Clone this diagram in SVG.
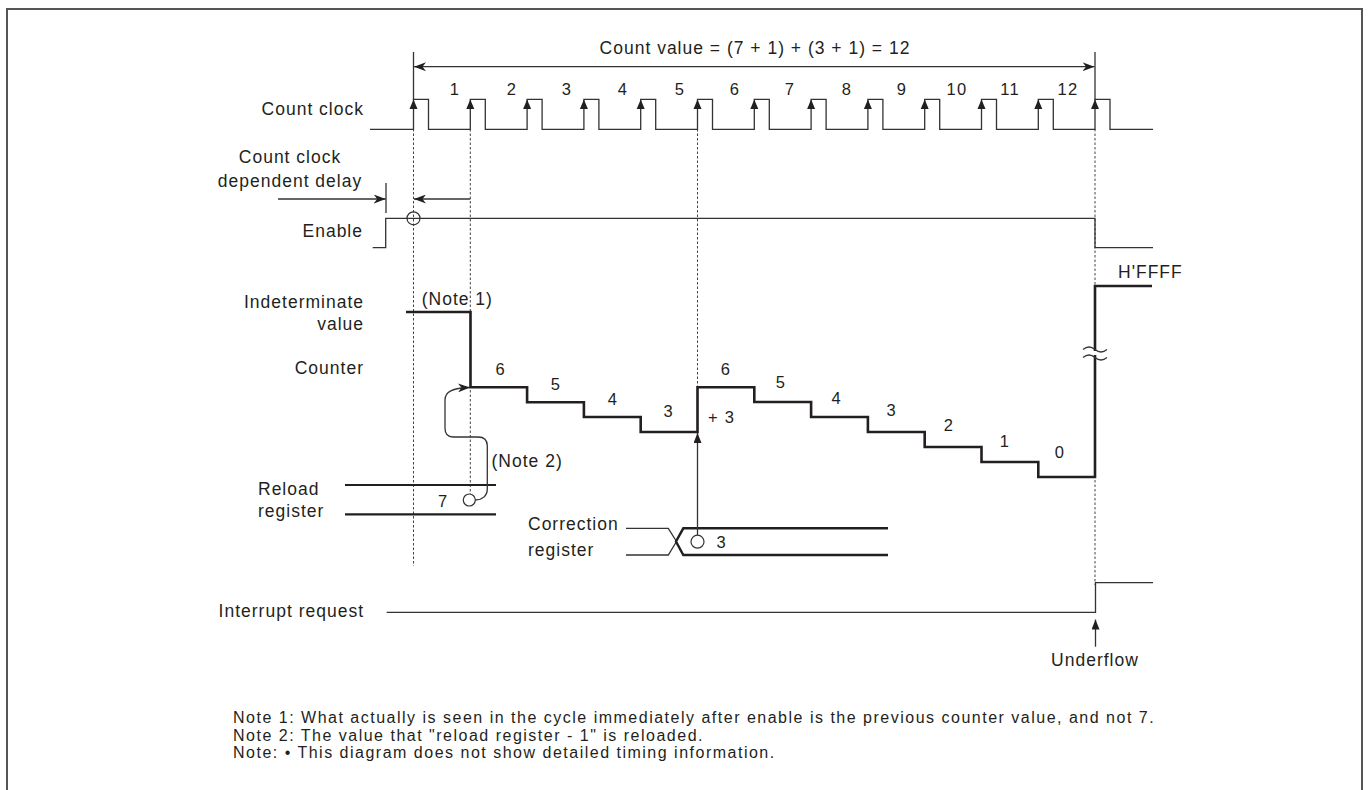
<svg xmlns="http://www.w3.org/2000/svg" width="1370" height="790" viewBox="0 0 1370 790">
<style>
text{font-family:"Liberation Sans",Arial,sans-serif;fill:#231f20;letter-spacing:1px}
.lb{font-size:17.5px}
.dg{font-size:16.5px;letter-spacing:1.3px}
.nt{font-size:16px;letter-spacing:1.5px}
.thin{fill:none;stroke:#333;stroke-width:1.3}
.thick{fill:none;stroke:#231f20;stroke-width:2.6}
.dot{fill:none;stroke:#444;stroke-width:1;stroke-dasharray:2.5,2}
.circ{fill:none;stroke:#333;stroke-width:1.2}
</style>
<defs>
<marker id="barb" viewBox="0 0 12 9" refX="12" refY="4.5" markerWidth="12" markerHeight="9" markerUnits="userSpaceOnUse" orient="auto">
<path d="M0,0 L12,4.5 L0,9 L3.5,4.5 z" fill="#231f20"/>
</marker>
<marker id="tri" viewBox="0 0 10 8" refX="10" refY="4" markerWidth="10" markerHeight="8" markerUnits="userSpaceOnUse" orient="auto">
<path d="M0,0 L10,4 L0,8 z" fill="#231f20"/>
</marker>
</defs>
<rect x="7" y="9" width="1355" height="800" fill="none" stroke="#555" stroke-width="2"/>

<g id="dotted-guides">
<line class="dot" x1="413.5" y1="129" x2="413.5" y2="566"/>
<line class="dot" x1="470.3" y1="129" x2="470.3" y2="494"/>
<line class="dot" x1="697.5" y1="129" x2="697.5" y2="432"/>
<line class="dot" x1="1095" y1="129" x2="1095" y2="585"/>
</g>

<g id="count-value">
<line class="thin" x1="413.5" y1="52" x2="413.5" y2="100"/>
<line class="thin" x1="1095" y1="52" x2="1095" y2="100"/>
<line class="thin" x1="755" y1="66.7" x2="414" y2="66.7" marker-end="url(#barb)"/>
<line class="thin" x1="755" y1="66.7" x2="1094.5" y2="66.7" marker-end="url(#barb)"/>
<text class="lb" x="755" y="54" text-anchor="middle">Count value = (7 + 1) + (3 + 1) = 12</text>
</g>

<g id="count-clock">
<text class="lb" x="364" y="115" text-anchor="end">Count clock</text>
<path class="thin" d="M370,129.3 H413.5 V99.3 H428.5 V129.3 H470.3 V99.3 H485.3 V129.3 H527.1 V99.3 H542.1 V129.3 H583.9 V99.3 H598.9 V129.3 H640.7 V99.3 H655.7 V129.3 H697.5 V99.3 H712.5 V129.3 H754.3 V99.3 H769.3 V129.3 H811.1 V99.3 H826.1 V129.3 H867.9 V99.3 H882.9 V129.3 H924.7 V99.3 H939.7 V129.3 H981.5 V99.3 H996.5 V129.3 H1038.3 V99.3 H1053.3 V129.3 H1095 V99.3 H1110 V129.3 H1153"/>
<g fill="#231f20">
<path d="M413.5,99.5 l-4,9.5 h8 z"/>
<path d="M470.3,99.5 l-4,9.5 h8 z"/>
<path d="M527.1,99.5 l-4,9.5 h8 z"/>
<path d="M583.9,99.5 l-4,9.5 h8 z"/>
<path d="M640.7,99.5 l-4,9.5 h8 z"/>
<path d="M697.5,99.5 l-4,9.5 h8 z"/>
<path d="M754.3,99.5 l-4,9.5 h8 z"/>
<path d="M811.1,99.5 l-4,9.5 h8 z"/>
<path d="M867.9,99.5 l-4,9.5 h8 z"/>
<path d="M924.7,99.5 l-4,9.5 h8 z"/>
<path d="M981.5,99.5 l-4,9.5 h8 z"/>
<path d="M1038.3,99.5 l-4,9.5 h8 z"/>
<path d="M1095,99.5 l-4,9.5 h8 z"/>
</g>
<g text-anchor="middle">
<text class="dg" x="455" y="95">1</text>
<text class="dg" x="512" y="95">2</text>
<text class="dg" x="567" y="95">3</text>
<text class="dg" x="623" y="95">4</text>
<text class="dg" x="680" y="95">5</text>
<text class="dg" x="735" y="95">6</text>
<text class="dg" x="790" y="95">7</text>
<text class="dg" x="847" y="95">8</text>
<text class="dg" x="902" y="95">9</text>
<text class="dg" x="957" y="95">10</text>
<text class="dg" x="1010" y="95">11</text>
<text class="dg" x="1068" y="95">12</text>
</g>
</g>

<g id="delay">
<text class="lb" x="290" y="163" text-anchor="middle">Count clock</text>
<text class="lb" x="290" y="187" text-anchor="middle">dependent delay</text>
<line class="thin" x1="278" y1="199" x2="385.7" y2="199" marker-end="url(#barb)"/>
<line class="thin" x1="386" y1="183" x2="386" y2="213"/>
<line class="thin" x1="470.3" y1="199" x2="414" y2="199" marker-end="url(#barb)"/>
</g>

<g id="enable">
<text class="lb" x="363" y="237" text-anchor="end">Enable</text>
<path class="thin" d="M372.7,247.7 H385.7 V218.3 H1095 V247.7 H1153"/>
<circle class="circ" cx="413.5" cy="218.3" r="6.5"/>
</g>

<g id="counter">
<text class="lb" x="364" y="308" text-anchor="end">Indeterminate</text>
<text class="lb" x="364" y="330" text-anchor="end">value</text>
<text class="lb" x="364" y="374" text-anchor="end">Counter</text>
<text class="lb" x="421.7" y="305">(Note 1)</text>
<path class="thick" d="M406,312 H470.5 V387.3 H527.1 V402.3 H583.9 V417 H640.7 V432 H697.5 V387.3 H754.3 V402 H811.1 V417 H867.9 V432 H924.7 V447 H981.5 V462 H1038.3 V477 H1095 V286 H1152"/>
<rect x="1090" y="351" width="10" height="4" fill="#fff"/>
<path class="thin" d="M1083,349.5 q6,-5 12,0 t12,0 M1083,357.5 q6,-5 12,0 t12,0"/>
<text class="lb" x="1118" y="278">H'FFFF</text>
<g text-anchor="middle">
<text class="dg" x="500.7" y="375">6</text>
<text class="dg" x="556" y="390">5</text>
<text class="dg" x="613" y="405">4</text>
<text class="dg" x="668.7" y="417">3</text>
<text class="dg" x="726" y="375">6</text>
<text class="dg" x="781" y="388">5</text>
<text class="dg" x="836.7" y="404">4</text>
<text class="dg" x="891.7" y="416">3</text>
<text class="dg" x="949" y="431">2</text>
<text class="dg" x="1005" y="447">1</text>
<text class="dg" x="1060" y="458">0</text>
</g>
<text class="dg" x="708" y="423">+ 3</text>
</g>

<g id="reload-register">
<text class="lb" x="258" y="495">Reload</text>
<text class="lb" x="258" y="517">register</text>
<line class="thick" x1="345" y1="485" x2="496" y2="485" style="stroke-width:2.2"/>
<line class="thick" x1="345" y1="514.3" x2="496" y2="514.3" style="stroke-width:2.2"/>
<text class="dg" x="443.3" y="507" text-anchor="middle">7</text>
<circle class="circ" cx="469.3" cy="500" r="6"/>
</g>

<g id="correction-register">
<text class="lb" x="528" y="530">Correction</text>
<text class="lb" x="528" y="556">register</text>
<path class="thin" d="M626,528.3 H668.3 L676.5,541.5 M626,555 H668.3 L676.5,541.5"/>
<path class="thick" d="M888,528.3 H683.3 L676,541.5 L683.3,555 H888" style="stroke-width:2.4"/>
<circle class="circ" cx="697.5" cy="541.7" r="6.5"/>
<text class="dg" x="721.7" y="548.3" text-anchor="middle">3</text>
</g>

<g id="interrupt-request">
<text class="lb" x="364" y="617" text-anchor="end">Interrupt request</text>
<path class="thin" d="M386.7,612.3 H1095.5 V582.7 H1153"/>
<text class="lb" x="1095" y="666" text-anchor="middle">Underflow</text>
</g>

<g id="connectors">
<path class="thin" d="M475.3,500 C482,500 487.3,496 487.3,489 L487.3,446 C487.3,440 484,437 478,437 L453,437 C448,437 445,434 445,428 L445,400 C445,392 452,388 470,387.5" marker-end="url(#barb)"/>
<line class="thin" x1="697.5" y1="535.2" x2="697.5" y2="433" marker-end="url(#tri)"/>
<line class="thin" x1="1095.5" y1="646.7" x2="1095.5" y2="619.5" marker-end="url(#tri)"/>
</g>
<text class="lb" x="491.5" y="467">(Note 2)</text>

<g id="notes">
<text class="nt" x="233" y="723">Note 1: What actually is seen in the cycle immediately after enable is the previous counter value, and not 7.</text>
<text class="nt" x="233" y="740.5">Note 2: The value that "reload register - 1" is reloaded.</text>
<text class="nt" x="233" y="758">Note: • This diagram does not show detailed timing information.</text>
</g>
</svg>
